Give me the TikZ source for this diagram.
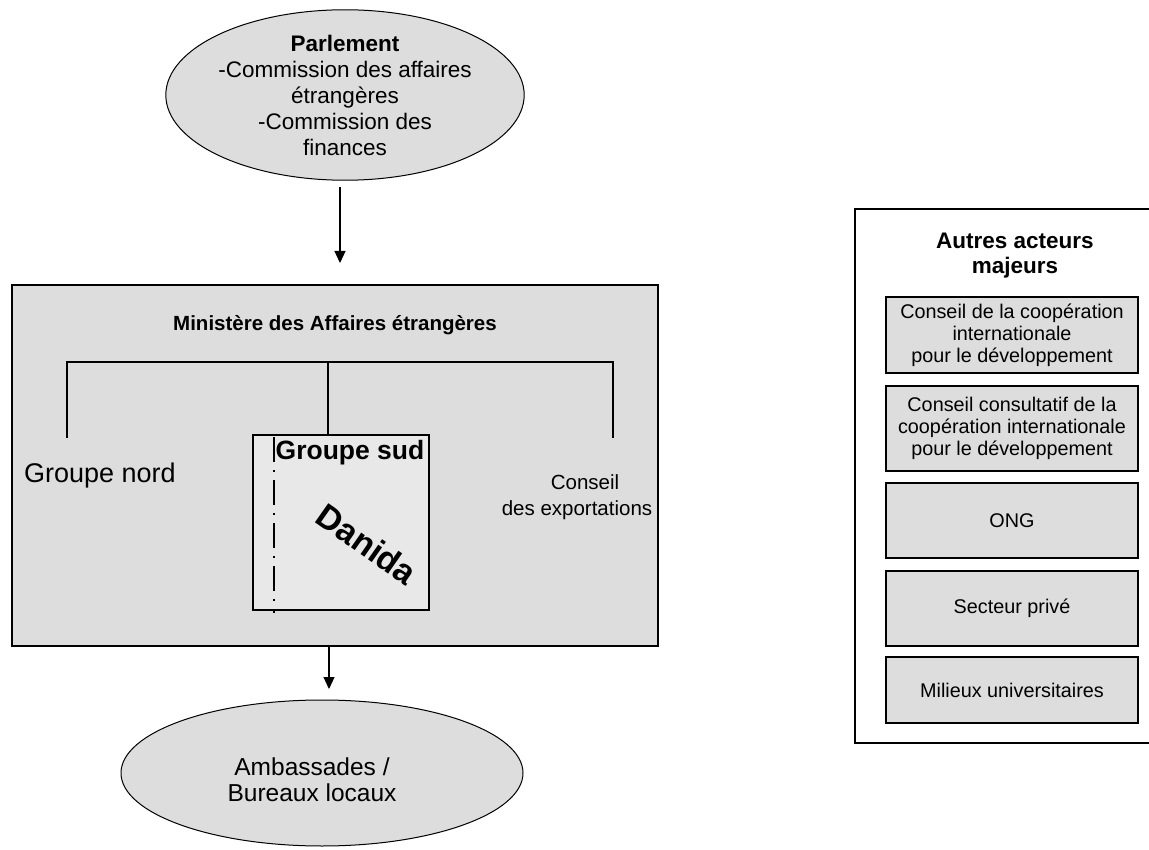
\documentclass[tikz,border=0pt]{standalone}
\usepackage{fontspec}
\setmainfont{Liberation Sans}
\usetikzlibrary{shapes.geometric,arrows.meta}
\definecolor{boxgray}{HTML}{DDDDDD}
\definecolor{lightgray2}{HTML}{E8E8E8}
\tikzset{
  oval/.style={ellipse, draw=black, line width=1pt, fill=boxgray, inner sep=0pt, align=center},
  bigbox/.style={draw=black, line width=1.3pt, fill=boxgray, inner sep=0pt},
  actorbox/.style={draw=black, line width=1.3pt, fill=boxgray, inner sep=0pt, minimum width=252pt, align=center, font=\fontsize{19.8}{22}\selectfont},
  treeline/.style={line width=1.3pt},
  arr/.style={line width=1.2pt, -{Triangle[length=12pt,width=11pt]}},
  lbl/.style={inner sep=0pt, align=center}
}
\begin{document}
\begin{tikzpicture}[x=1pt,y=-1pt]
\useasboundingbox (0,0) rectangle (1149,850);
\fill[white] (0,0) rectangle (1149,850);

% Parlement
\node[oval, minimum width=339pt, minimum height=164pt, font=\fontsize{22.5}{26}\selectfont] (parl) at (345,95)
  {\textbf{Parlement}\\-Commission des affaires\\étrangères\\-Commission des\\finances};

% Ministere box
\node[bigbox, minimum width=646pt, minimum height=361pt] (min) at (335,465.5) {};
\node[lbl, font=\bfseries\fontsize{20.5}{24}\selectfont] (mintitle) at (335,325) {Ministère des Affaires étrangères};

\coordinate (a1) at (340,187);
\coordinate (a2) at (340,263);
\draw[arr] (a1) -- (a2);

% tree
\coordinate (tl) at (67,362);
\coordinate (tr) at (613,362);
\coordinate (tm) at (328,362);
\coordinate (tlb) at (67,438);
\coordinate (trb) at (613,438);
\draw[treeline] (tlb) -- (tl) -- (tr) -- (trb);

% Groupe sud box
\node[draw=black, line width=1.3pt, fill=lightgray2, minimum width=176pt, minimum height=175pt, inner sep=0pt] (gs) at (341,522.5) {};
\draw[treeline] (tm) -- (tm |- gs.north);
\coordinate (dd1) at (274,437);
\coordinate (dd2) at (274,613);
\draw[line width=1.7pt, dash pattern=on 25pt off 8pt on 2pt off 8pt] (dd1) -- (dd2);
\node[lbl, font=\bfseries\fontsize{26.5}{30}\selectfont] (gstitle) at (350,453) {Groupe sud};
\node[lbl, font=\bfseries\fontsize{34}{38}\selectfont, rotate=-35] (danida) at (367,544) {Danida};

\node[lbl, font=\fontsize{27}{31}\selectfont] (gn) at (100,476) {Groupe nord};
\node[lbl, font=\fontsize{20.5}{26}\selectfont] (ce) at (577,497) {\hspace*{16pt}Conseil\\des exportations};

% Ambassades
\node[oval, minimum width=402pt, minimum height=146pt] (amb) at (322,773) {};
\node[lbl, font=\fontsize{24.5}{26}\selectfont] (ambtext) at (312,780) {Ambassades /\\Bureaux locaux};
\coordinate (b1) at (329,647);
\coordinate (b2) at (329,689);
\draw[arr] (b1) -- (b2);

% Right panel
\draw[line width=1.2pt, fill=white] (1170,209) -- (855,209) -- (855,743) -- (1170,743);
\node[lbl, font=\bfseries\fontsize{22.5}{25}\selectfont] (rtitle) at (1015,256) {Autres acteurs\\majeurs};
\node[actorbox, minimum height=76pt] (r1) at (1012,335) {Conseil de la coopération\\internationale\\pour le développement};
\node[actorbox, minimum height=85pt] (r2) at (1012,428.5) {Conseil consultatif de la\\coopération internationale\\pour le développement};
\node[actorbox, minimum height=75pt] (r3) at (1012,520.5) {ONG};
\node[actorbox, minimum height=75pt] (r4) at (1012,608.5) {Secteur privé};
\node[actorbox, minimum height=66pt] (r5) at (1012,690) {Milieux universitaires};
\end{tikzpicture}
\end{document}
